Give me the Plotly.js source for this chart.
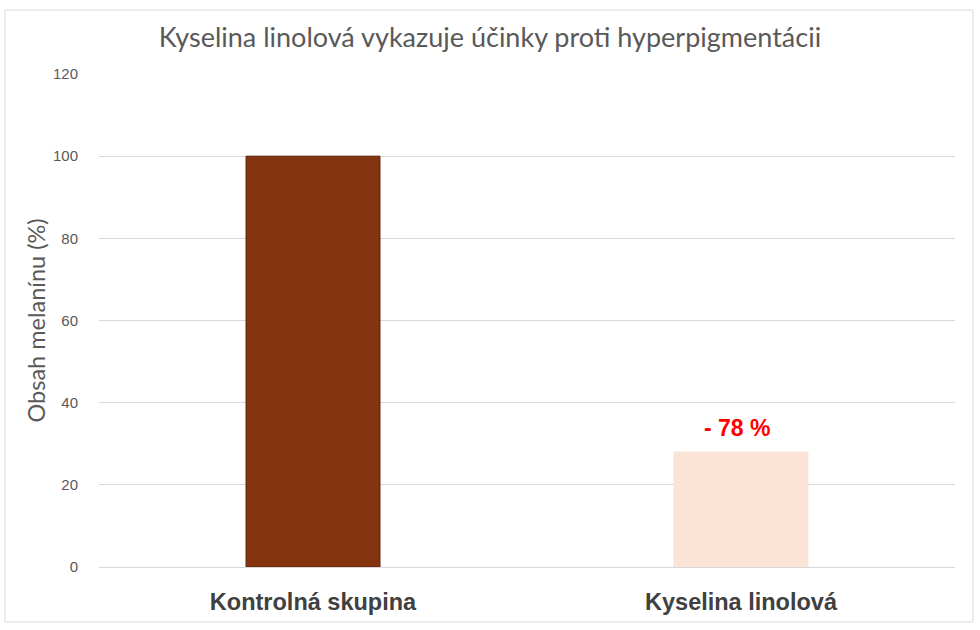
<!DOCTYPE html>
<html>
<head>
<meta charset="utf-8">
<script src="https://cdn.plot.ly/plotly-3.0.1.min.js"></script>
<style>html,body{margin:0;padding:0;background:#fff;}#chart{width:980px;height:630px;}</style>
</head>
<body>
<div id="chart"></div>
<script>
const categories = ["Kontrolná skupina", "Kyselina linolová"];
const melaninValues = [100, 28];
const barColors = ["#843510", "#FBE3D6"];
const barLineColors = ["#5a230a", "#FBE3D6"];
const changeLabel = "- 78 %";
const yTickValues = [0, 20, 40, 60, 80, 100, 120];

const trace = {
  type: "bar",
  x: categories,
  y: melaninValues,
  width: 0.313,
  marker: {color: barColors, line: {color: barLineColors, width: 1}},
  hoverinfo: "skip"
};

const layout = {
  width: 980, height: 630,
  margin: {l: 99, r: 25, t: 74, b: 63},
  paper_bgcolor: "#ffffff", plot_bgcolor: "#ffffff",
  showlegend: false,
  title: {
    text: "Kyselina linolová vykazuje účinky proti hyperpigmentácii",
    font: {family: "Lato, 'Open Sans', sans-serif", size: 27, color: "#595959"},
    x: 0.5, xanchor: "center", y: 1 - 38/630, yanchor: "middle"
  },
  xaxis: {
    type: "category",
    showgrid: false, zeroline: false,
    showline: true, linecolor: "#d9d9d9", linewidth: 1,
    ticks: "outside", ticklen: 14, tickcolor: "rgba(0,0,0,0)",
    tickfont: {family: "'Liberation Sans', Arial, sans-serif", size: 23.5, color: "#404040", weight: "bold"}
  },
  yaxis: {
    range: [0, 120],
    tickvals: yTickValues,
    showgrid: true, gridcolor: "#d9d9d9", gridwidth: 1,
    zeroline: false, showline: false,
    ticks: "outside", ticklen: 17, tickcolor: "rgba(0,0,0,0)",
    tickfont: {family: "'Liberation Sans', Arial, sans-serif", size: 15, color: "#595959"},
    title: {text: "Obsah melanínu (%)", font: {family: "Lato, 'Open Sans', sans-serif", size: 23.5, color: "#595959"}, standoff: 0}
  },
  annotations: [{
    x: categories[1], y: melaninValues[1], xref: "x", yref: "y",
    text: changeLabel, showarrow: false, yanchor: "bottom", yshift: 9, xshift: -4,
    font: {family: "'Liberation Sans', Arial, sans-serif", size: 23, color: "#ff0000", weight: "bold"}
  }],
  shapes: [{
    type: "rect", xref: "paper", yref: "paper",
    x0: -0.1098, x1: 1.021, y0: -0.1116, y1: 1.1298,
    line: {color: "#d9d9d9", width: 1}, fillcolor: "rgba(0,0,0,0)", layer: "below"
  }]
};

Plotly.newPlot("chart", [trace], layout, {displayModeBar: false, staticPlot: true});
</script>
</body>
</html>
